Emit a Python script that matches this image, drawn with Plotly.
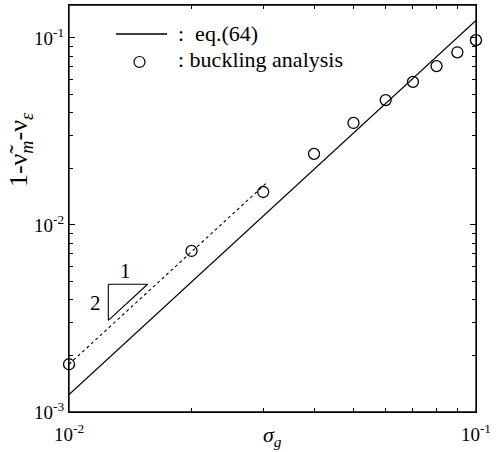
import plotly.graph_objects as go

# data
sigma_g = [0.01, 0.02, 0.03, 0.04, 0.05, 0.06, 0.07, 0.08, 0.09, 0.10]
buckling = [0.00180, 0.00726, 0.0150, 0.0240, 0.0351, 0.0465, 0.0582, 0.0707, 0.0838, 0.0973]

eq64_x = [0.01, 0.1]
eq64_y = [0.00124, 0.124]

dot_x = [0.01, 0.0305]
dot_y = [0.0018, 0.0167]

tri_x = [0.01249, 0.0156, 0.01249, 0.01249]
tri_y = [0.00482, 0.00482, 0.00309, 0.00482]

x_tickvals = [0.01, 0.1]
x_ticktext = ["10<sup>-2</sup>", "10<sup>-1</sup>"]
y_tickvals = [0.001, 0.01, 0.1]
y_ticktext = ["10<sup>-3</sup>", "10<sup>-2</sup>", "10<sup>-1</sup>"]

x_minor = [k * 0.01 for k in range(2, 10)]
y_minor = [k * 10.0 ** e for e in (-3, -2, -1) for k in range(2, 10)]

FONT = "Liberation Serif, Times New Roman, serif"

fig = go.Figure()
fig.add_trace(go.Scatter(x=eq64_x, y=eq64_y, mode="lines",
                         line=dict(color="black", width=1.3), showlegend=False))
fig.add_trace(go.Scatter(x=dot_x, y=dot_y, mode="lines",
                         line=dict(color="black", width=1.1, dash="dot"), showlegend=False))
fig.add_trace(go.Scatter(x=tri_x, y=tri_y, mode="lines",
                         line=dict(color="black", width=1.1), showlegend=False))
fig.add_trace(go.Scatter(x=sigma_g, y=buckling, mode="markers",
                         marker=dict(symbol="circle-open", size=11, color="black",
                                     line=dict(width=1.3, color="black")),
                         cliponaxis=False, showlegend=False))

axis_common = dict(type="log", showgrid=False, zeroline=False, showline=True,
                   linecolor="black", linewidth=1.3, mirror="allticks", ticks="inside",
                   ticklen=6, tickwidth=1.1, tickcolor="black",
                   tickfont=dict(family=FONT, size=19, color="black"))

fig.update_xaxes(**axis_common, range=[-2.00005, -0.99995], tickmode="array",
                 tickvals=x_tickvals, ticktext=x_ticktext, ticklabelstandoff=5,
                 minor=dict(tickmode="array", tickvals=x_minor, ticks="inside",
                            ticklen=3.5, tickwidth=1, tickcolor="black"))
fig.update_yaxes(**axis_common, range=[-3, -0.824], tickmode="array",
                 tickvals=y_tickvals, ticktext=y_ticktext, ticklabelstandoff=0,
                 minor=dict(tickmode="array", tickvals=y_minor, ticks="inside",
                            ticklen=3.5, tickwidth=1, tickcolor="black"))

annotations = [
    dict(text="<i>σ<sub>g</sub></i>", x=0.5, y=-0.02, xref="paper", yref="paper",
         xanchor="center", yanchor="top", showarrow=False,
         font=dict(family=FONT, size=22, color="black")),
    dict(text="1-ν̃<sub><i>m</i></sub>-ν<sub><i>ε</i></sub>", x=-0.12, y=0.644,
         xref="paper", yref="paper", xanchor="center", yanchor="middle",
         textangle=-90, showarrow=False,
         font=dict(family=FONT, size=26, color="black")),
    dict(text=":\u00a0\u00a0eq.(64)", x=0.262, y=0.931, xref="paper", yref="paper",
         xanchor="left", yanchor="middle", showarrow=False,
         font=dict(family=FONT, size=22, color="black")),
    dict(text=": buckling analysis", x=0.262, y=0.865, xref="paper", yref="paper",
         xanchor="left", yanchor="middle", showarrow=False,
         font=dict(family=FONT, size=22, color="black")),
    dict(text="1", x=-1.86, y=-2.246, xref="x", yref="y",
         xanchor="center", yanchor="middle", showarrow=False,
         font=dict(family=FONT, size=21, color="black")),
    dict(text="2", x=-1.934, y=-2.417, xref="x", yref="y",
         xanchor="center", yanchor="middle", showarrow=False,
         font=dict(family=FONT, size=21, color="black")),
]

shapes = [
    dict(type="rect", xref="paper", yref="paper", x0=0, x1=1, y0=0, y1=1,
         line=dict(color="black", width=1.3), layer="above"),
    dict(type="line", xref="paper", yref="paper", x0=0.1155, x1=0.2408,
         y0=0.9287, y1=0.9287, line=dict(color="black", width=1.3)),
    dict(type="circle", xref="paper", yref="paper", x0=0.1732 - 0.0135, x1=0.1732 + 0.0135,
         y0=0.86 - 0.0135, y1=0.86 + 0.0135, line=dict(color="black", width=1.2)),
]

fig.update_layout(width=504, height=452, margin=dict(l=69, r=28, t=5, b=40),
                  paper_bgcolor="white", plot_bgcolor="white",
                  font=dict(family=FONT, color="black"),
                  annotations=annotations, shapes=shapes, showlegend=False)

fig.write_html("out.html", config={"displayModeBar": False},
               post_script="document.body.style.margin='0';document.body.style.overflow='hidden';")
